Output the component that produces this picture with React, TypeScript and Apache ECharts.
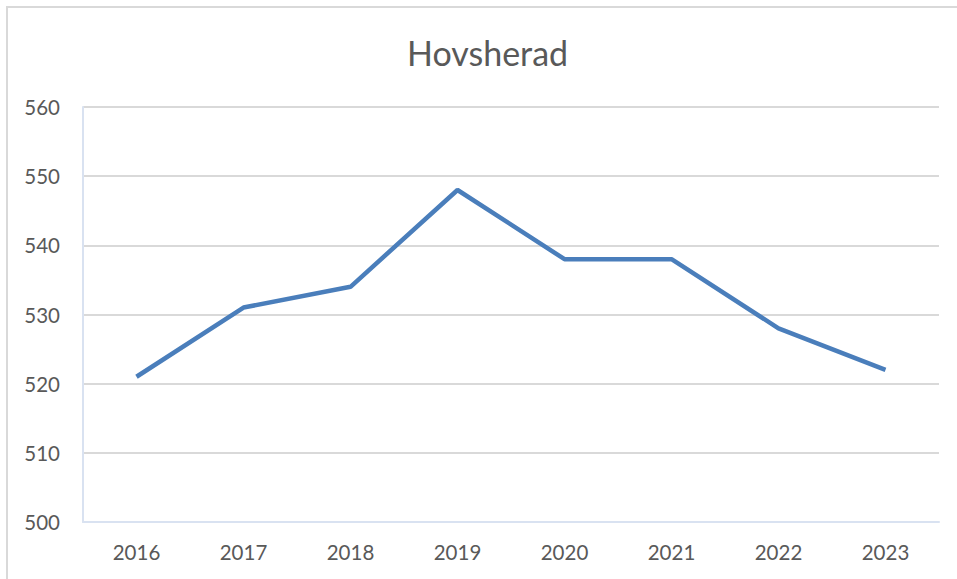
import React, { useEffect, useRef } from "react";
import * as echarts from "echarts";

const title = "Hovsherad";
const years = ["2016", "2017", "2018", "2019", "2020", "2021", "2022", "2023"];
const values = [521, 531, 534, 548, 538, 538, 528, 522];
const yMin = 500;
const yMax = 560;
const yStep = 10;

export default function App() {
  const ref = useRef<HTMLDivElement>(null);
  useEffect(() => {
    if (!ref.current) return;
    const chart = echarts.init(ref.current, undefined, { renderer: "svg" });
    const font = "Lato, 'Open Sans', sans-serif";
    chart.setOption({
      animation: false,
      backgroundColor: "#ffffff",
      title: {
        text: title,
        left: 402,
        top: 30,
        textStyle: { fontFamily: font, fontSize: 34, fontWeight: "normal", color: "#595959" },
      },
      graphic: [
        {
          type: "rect",
          shape: { x: 7, y: 7, width: 980, height: 600 },
          style: { fill: "none", stroke: "#d9d9d9", lineWidth: 2 },
          silent: true,
        },
      ],
      grid: { left: 83, right: 18, top: 107, bottom: 57 },
      xAxis: {
        type: "category",
        data: years,
        boundaryGap: true,
        axisLine: { show: true, lineStyle: { color: "#d9e2f1", width: 2 } },
        axisTick: { show: false },
        axisLabel: { color: "#595959", fontSize: 20.5, fontFamily: font, margin: 19 },
      },
      yAxis: {
        type: "value",
        min: yMin,
        max: yMax,
        interval: yStep,
        axisLine: { show: true, lineStyle: { color: "#d9e2f1", width: 2 } },
        axisTick: { show: false },
        splitLine: { lineStyle: { color: "#d9d9d9", width: 2 } },
        axisLabel: { color: "#595959", fontSize: 20.5, fontFamily: font, margin: 23 },
      },
      series: [
        {
          type: "line",
          data: values,
          symbol: "none",
          lineStyle: { color: "#4a7ebb", width: 4.5 },
        },
      ],
    });
    return () => chart.dispose();
  }, []);
  return (
    <div
      ref={ref}
      style={{ position: "fixed", left: 0, top: 0, width: 957, height: 579 }}
    />
  );
}
